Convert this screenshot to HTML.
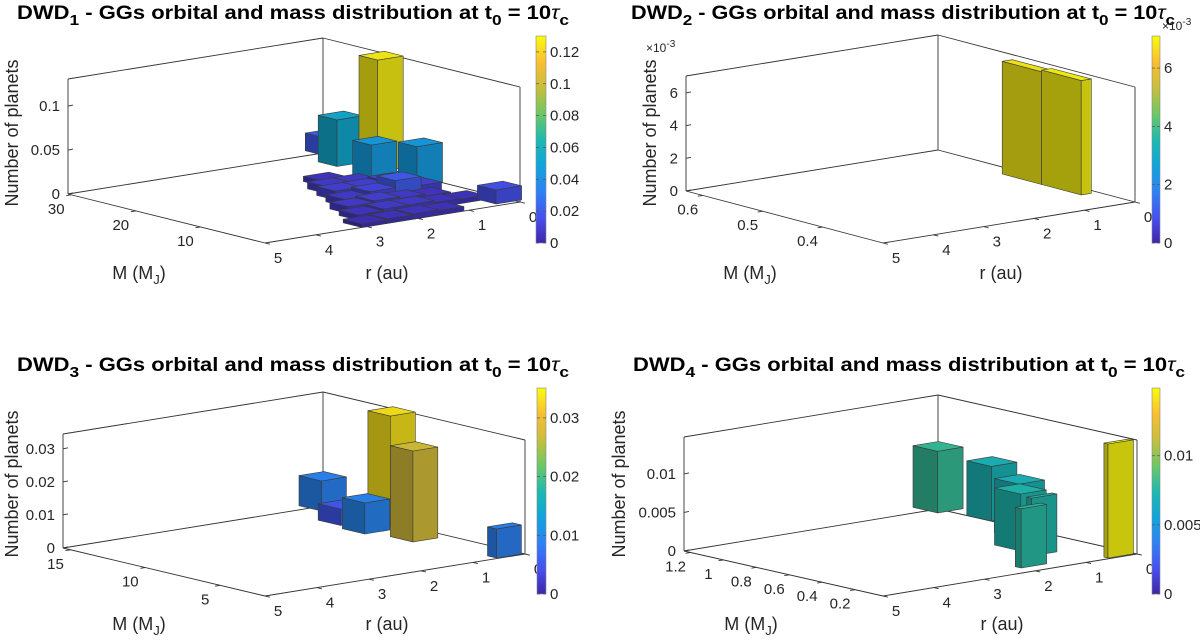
<!DOCTYPE html>
<html><head><meta charset="utf-8"><style>
html,body{margin:0;padding:0;background:#fff;}
svg{display:block;font-family:"Liberation Sans",Arial,sans-serif;}
</style></head><body>
<svg id="fig" width="1200" height="642" viewBox="0 0 1200 642" xmlns="http://www.w3.org/2000/svg">
<defs>
<linearGradient id="parula" x1="0" y1="1" x2="0" y2="0">
<stop offset="0" stop-color="rgb(62,38,168)"/>
<stop offset="0.12" stop-color="rgb(70,80,240)"/>
<stop offset="0.25" stop-color="rgb(45,130,245)"/>
<stop offset="0.375" stop-color="rgb(15,165,220)"/>
<stop offset="0.5" stop-color="rgb(30,185,175)"/>
<stop offset="0.625" stop-color="rgb(110,200,100)"/>
<stop offset="0.75" stop-color="rgb(200,190,60)"/>
<stop offset="0.875" stop-color="rgb(250,190,50)"/>
<stop offset="1" stop-color="rgb(249,251,14)"/>
</linearGradient>
</defs>
<rect width="1200" height="642" fill="#fff"/>
</svg>
<script>
// ---------- DATA ----------
// Panel 1 (DWD1)
const p1_r = [0.0, 0.23, 0.69, 0.225, -0.15, 0.13,
  2.85, 2.35, 1.85, 1.35,
  2.55, 2.05, 1.55, 1.05, 0.55,
  2.35, 1.85, 1.35, 0.85,
  2.05, 1.55, 1.05, 0.65,
  1.85, 1.35, 0.85,
  1.65, 1.15,
  1.35];
const p1_M = [21.5, 26.0, 17.05, 13.65, 31.0, 2.15,
  1.45, 1.45, 1.45, 1.45,
  4.45, 4.45, 4.45, 4.45, 4.45,
  7.45, 7.45, 7.45, 7.45,
  10.45, 10.45, 10.45, 10.45,
  13.45, 13.45, 13.45,
  16.45, 16.45,
  19.45];
const p1_h = [0.127, 0.053, 0.045, 0.045, 0.02, 0.016,
  0.004, 0.005, 0.006, 0.005,
  0.006, 0.008, 0.008, 0.006, 0.005,
  0.008, 0.010, 0.008, 0.006,
  0.008, 0.012, 0.020, 0.010,
  0.010, 0.010, 0.012,
  0.008, 0.008,
  0.006];
const p1_dM = [2.9];
// Panel 2 (DWD2)
const p2_r = [0.23, 0.23];
const p2_M = [0.46, 0.394];
const p2_h = [0.0069, 0.0070];
const p2_dM = [0.066];
// Panel 3 (DWD3)
const p3_r = [-0.01, 0.46, 0.02, 0.5, 0.63, 0.28];
const p3_M = [10.95, 7.81, 15.45, 12.5, 10.43, 2.4];
const p3_h = [0.0335, 0.0275, 0.0091, 0.005, 0.0094, 0.0088];
const p3_dM = [1.5, 1.5, 1.5, 1.5, 1.5, 0.6];
// Panel 4 (DWD4)
const p4_r = [-0.05, -0.25, 0.29, 0.92, 1.05, 1.77, 0.28];
const p4_M = [1.255, 0.99, 0.655, 0.455, 0.285, 0.128, 0.055];
const p4_h = [0.0080, 0.0071, 0.0070, 0.0074, 0.0075, 0.0077, 0.0148];
const p4_dM = [0.15, 0.15, 0.15, 0.16, 0.03, 0.036, 0.025];
// ticks
const rTicks = [0, 1, 2, 3, 4, 5];
const p1_mTicks = [10, 20, 30];
const p2_mTicks = [0.4, 0.5, 0.6];
const p3_mTicks = [5, 10, 15];
const p4_mTicks = [0.2, 0.4, 0.6, 0.8, 1, 1.2];
const p4_mLabels = ["0.2", "0.4", "0.6", "0.8", "1", "1.2"];
const p1_zTicks = [0, 0.05, 0.1];
const p1_zLabels = ["0", "0.05", "0.1"];
const p2_zTicks = [0, 0.002, 0.004, 0.006];
const p2_zLabels = ["0", "2", "4", "6"];
const p3_zTicks = [0, 0.01, 0.02, 0.03];
const p3_zLabels = ["0", "0.01", "0.02", "0.03"];
const p4_zTicks = [0, 0.005, 0.01];
const p4_zLabels = ["0", "0.005", "0.01"];
const p1_cbTicks = [0, 0.02, 0.04, 0.06, 0.08, 0.1, 0.12];
const p1_cbLabels = ["0", "0.02", "0.04", "0.06", "0.08", "0.1", "0.12"];
const p2_cbTicks = [0, 0.002, 0.004, 0.006];
const p2_cbLabels = ["0", "2", "4", "6"];
const p3_cbTicks = [0, 0.01, 0.02, 0.03];
const p3_cbLabels = ["0", "0.01", "0.02", "0.03"];
const p4_cbTicks = [0, 0.005, 0.01];
const p4_cbLabels = ["0", "0.005", "0.01"];

// ---------- LAYOUT ----------
const panels = [
 {id:1, C:[520,202], B:[265,243], D:[323,153], H:115, zmax:0.1307, m0:0, m1:30.5, dr:0.5,
  r:p1_r, M:p1_M, h:p1_h, dM:p1_dM, mT:p1_mTicks, mL:null, zT:p1_zTicks, zL:p1_zLabels,
  cb:[536,36,10,207], cmax:0.13, cbT:p1_cbTicks, cbL:p1_cbLabels,
  title:[17,569,19], ylab:[12,133], mlab:[139,279], rlab:[387,279], ex:null},
 {id:2, C:[1135,202], B:[883,243], D:[938,150], H:115, zmax:0.00704, m0:0.299, m1:0.628, dr:0.2,
  r:p2_r, M:p2_M, h:p2_h, dM:p2_dM, mT:p2_mTicks, mL:null, zT:p2_zTicks, zL:p2_zLabels,
  cb:[1152,36,8,207], cmax:0.0071, cbT:p2_cbTicks, cbL:p2_cbLabels,
  title:[631,1175,19], ylab:[650,133], mlab:[750,279], rlab:[1001,279], ex:[[646,52],[1162,30]]},
 {id:3, C:[525,554], B:[265,596], D:[323,506], H:114, zmax:0.0345, m0:2, m1:15.5, dr:0.48,
  r:p3_r, M:p3_M, h:p3_h, dM:p3_dM, mT:p3_mTicks, mL:null, zT:p3_zTicks, zL:p3_zLabels,
  cb:[537,388,9,206], cmax:0.0351, cbT:p3_cbTicks, cbL:p3_cbLabels,
  title:[17,569,371], ylab:[12,484], mlab:[139,630], rlab:[387,630], ex:null},
 {id:4, C:[1137,554], B:[883,596], D:[938,509], H:114, zmax:0.0148, m0:0.03, m1:1.24, dr:0.5,
  r:p4_r, M:p4_M, h:p4_h, dM:p4_dM, mT:p4_mTicks, mL:p4_mLabels, zT:p4_zTicks, zL:p4_zLabels,
  cb:[1152,388,8,206], cmax:0.0149, cbT:p4_cbTicks, cbL:p4_cbLabels,
  title:[633,1185,371], ylab:[619,484], mlab:[751,630], rlab:[1002,630], ex:null}
];

const NS = "http://www.w3.org/2000/svg";
const svg = document.getElementById('fig');
function mk(tag, attrs, parent){ const e=document.createElementNS(NS,tag); for(const k in attrs) e.setAttribute(k,attrs[k]); (parent||svg).appendChild(e); return e; }

const stops = [[0,[62,38,168]],[0.12,[70,80,240]],[0.25,[45,130,245]],[0.375,[15,165,220]],[0.5,[30,185,175]],[0.625,[110,200,100]],[0.75,[200,190,60]],[0.875,[250,190,50]],[1,[249,251,14]]];
function parula(t){ t=Math.max(0,Math.min(1,t)); for(let i=1;i<stops.length;i++){ if(t<=stops[i][0]){ const a=stops[i-1],b=stops[i]; const f=(t-a[0])/(b[0]-a[0]); return [0,1,2].map(k=>a[1][k]+f*(b[1][k]-a[1][k])); } } return stops[stops.length-1][1]; }
function shade(c,f){ return 'rgb('+c.map(v=>Math.round(Math.min(255,v*f))).join(',')+')'; }

panels.forEach(p=>{
  const g = mk('g',{});
  
  
  const rv=[(p.B[0]-p.C[0])/5,(p.B[1]-p.C[1])/5];
  const mv=[p.D[0]-p.C[0],p.D[1]-p.C[1]];
  const P=(r,M,z)=>{ const b=(M-p.m0)/(p.m1-p.m0); return [p.C[0]+r*rv[0]+b*mv[0], p.C[1]+r*rv[1]+b*mv[1]-z/p.zmax*p.H]; };
  const pts=a=>a.map(q=>q[0].toFixed(1)+','+q[1].toFixed(1)).join(' ');
  // box
  const rmax=5, lines=[
    [P(rmax,p.m1,0),P(0,p.m1,0)],[P(0,p.m1,0),P(0,p.m0,0)],
    [P(rmax,p.m1,0),P(rmax,p.m1,p.zmax)],[P(0,p.m1,0),P(0,p.m1,p.zmax)],[P(0,p.m0,0),P(0,p.m0,p.zmax)],
    [P(rmax,p.m1,p.zmax),P(0,p.m1,p.zmax)],[P(0,p.m1,p.zmax),P(0,p.m0,p.zmax)],
    [P(rmax,p.m1,0),P(rmax,p.m0,0)],[P(rmax,p.m0,0),P(0,p.m0,0)]];
  lines.forEach(l=>{ const e=mk('line',{x1:l[0][0],y1:l[0][1],x2:l[1][0],y2:l[1][1],stroke:'#333',"stroke-width":0.9},g);
      });
  // r ticks
  const mn=Math.hypot(mv[0],mv[1]), rn=Math.hypot(rv[0],rv[1]);
  rTicks.forEach(t=>{ const q=P(t,p.m0,0);
    const tk=mk('line',{x1:q[0],y1:q[1],x2:q[0]-mv[0]/mn*5,y2:q[1]-mv[1]/mn*5,stroke:'#333',"stroke-width":0.9},g);
     
    const tx=mk('text',{x:q[0]+13,y:q[1]+20,"font-size":15,fill:'#262626',"text-anchor":'middle'},g); tx.textContent=String(t);
      });
  p.mT.forEach((t,i)=>{ const q=P(rmax,t,0);
    const tk=mk('line',{x1:q[0],y1:q[1],x2:q[0]+rv[0]/rn*5,y2:q[1]+rv[1]/rn*5,stroke:'#333',"stroke-width":0.9},g);
     
    const tx=mk('text',{x:q[0]-15,y:q[1]+19,"font-size":15,fill:'#262626',"text-anchor":'middle'},g); tx.textContent=p.mL?p.mL[i]:String(t);
      });
  p.zT.forEach((t,i)=>{ const q=P(rmax,p.m1,t);
    const tk=mk('line',{x1:q[0],y1:q[1],x2:q[0]+5,y2:q[1]-1,stroke:'#333',"stroke-width":0.9},g);
     
    const tx=mk('text',{x:q[0]-8,y:q[1]+5,"font-size":15,fill:'#262626',"text-anchor":'end'},g); tx.textContent=p.zL[i];
      });
  // bars
  const bars=p.r.map((r,i)=>({r:r,M:p.M[i],h:p.h[i],dM:p.dM[i]!==undefined?p.dM[i]:p.dM[0]}));
  bars.forEach(b=>{ b.key=P(b.r,b.M,0)[1]; });
  bars.sort((a,b)=>a.key-b.key);
  bars.forEach(b=>{
    const r0=b.r-p.dr/2, r1=b.r+p.dr/2, M0=b.M-b.dM/2, M1=b.M+b.dM/2, h=b.h;
    const col=parula(h/p.cmax);
    const bg=mk('g',{},g);  
    const st={stroke:'#3a3a3a',"stroke-width":0.6,"stroke-linejoin":'round'};
    mk('polygon',Object.assign({points:pts([P(r1,M0,0),P(r1,M1,0),P(r1,M1,h),P(r1,M0,h)]),fill:shade(col,0.66)},st),bg);
    mk('polygon',Object.assign({points:pts([P(r1,M0,0),P(r0,M0,0),P(r0,M0,h),P(r1,M0,h)]),fill:shade(col,0.8)},st),bg);
    mk('polygon',Object.assign({points:pts([P(r0,M0,h),P(r1,M0,h),P(r1,M1,h),P(r0,M1,h)]),fill:shade(col,0.95)},st),bg);
  });
  // axis labels
  const yl=mk('text',{x:p.ylab[0],y:p.ylab[1],"font-size":18,fill:'#262626',"text-anchor":'middle',transform:'rotate(-90 '+p.ylab[0]+' '+p.ylab[1]+')',"dominant-baseline":'central'},g);
  yl.textContent='Number of planets';  
  const ml=mk('text',{x:p.mlab[0],y:p.mlab[1],"font-size":18,fill:'#262626',"text-anchor":'middle'},g);
  ml.innerHTML='M (M<tspan dy="5" font-size="13">J</tspan><tspan dy="-5">)</tspan>';
   
  const rl=mk('text',{x:p.rlab[0],y:p.rlab[1],"font-size":18,fill:'#262626',"text-anchor":'middle'},g);
  rl.textContent='r (au)';  
  // title
  const tt=mk('text',{x:p.title[0],y:p.title[2],"font-size":19,"font-weight":'bold',fill:'#000',textLength:p.title[1]-p.title[0],lengthAdjust:'spacingAndGlyphs'},g);
  tt.innerHTML='DWD<tspan dy="6" font-size="15">'+p.id+'</tspan><tspan dy="-6"> - GGs orbital and mass distribution at t</tspan><tspan dy="6" font-size="15">0</tspan><tspan dy="-6"> = 10</tspan><tspan font-style="italic" font-weight="normal">τ</tspan><tspan dy="6" font-size="15">c</tspan>';
   
  // exponent labels
  if(p.ex){ p.ex.forEach(e=>{ const x=mk('text',{x:e[0],y:e[1],"font-size":12,fill:'#262626'},g);
    x.innerHTML='×10<tspan dy="-5" font-size="10">-3</tspan>';   }); }
  // colorbar
  const cbg=mk('g',{},g);  
  mk('rect',{x:p.cb[0],y:p.cb[1],width:p.cb[2],height:p.cb[3],fill:'url(#parula)',stroke:'#888',"stroke-width":0.6},cbg);
  p.cbT.forEach((t,i)=>{ const y=p.cb[1]+p.cb[3]-t/p.cmax*p.cb[3];
    mk('line',{x1:p.cb[0]+p.cb[2]-3,y1:y,x2:p.cb[0]+p.cb[2],y2:y,stroke:'#555',"stroke-width":0.7},cbg);
    mk('line',{x1:p.cb[0],y1:y,x2:p.cb[0]+3,y2:y,stroke:'#555',"stroke-width":0.7},cbg);
    const tx=mk('text',{x:p.cb[0]+p.cb[2]+4,y:y+5,"font-size":15,fill:'#262626'},cbg); tx.textContent=p.cbL[i];
      });
});
</script>
</body></html>
